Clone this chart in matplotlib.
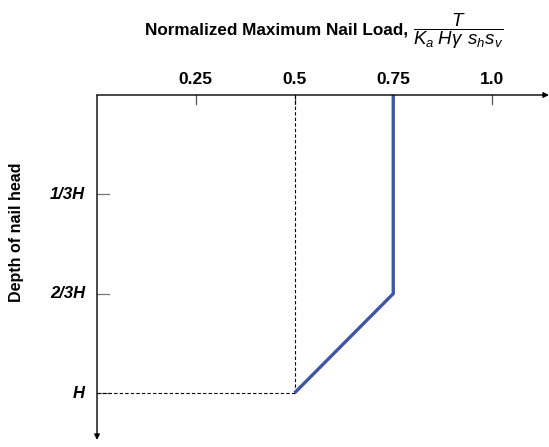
import matplotlib.pyplot as plt

plt.rcParams['font.family'] = 'Liberation Sans'
plt.rcParams['mathtext.fontset'] = 'custom'
plt.rcParams['mathtext.rm'] = 'Liberation Sans'
plt.rcParams['mathtext.it'] = 'Liberation Sans:italic'
plt.rcParams['mathtext.bf'] = 'Liberation Sans:bold:italic'

# data
load_ticks = [0.25, 0.5, 0.75, 1.0]
load_labels = ['0.25', '0.5', '0.75', '1.0']
depth_ticks = [1/3, 2/3, 1.0]
depth_labels = ['1/3H', '2/3H', 'H']
envelope_load = [0.75, 0.75, 0.5]
envelope_depth = [0.0, 2/3, 1.0]

fig = plt.figure(figsize=(5.49, 4.47), dpi=100)
W, H = 549, 447
x0, x1 = 97, 549
y0, y1 = 95, 440
ax = fig.add_axes([x0 / W, 1 - y1 / H, (x1 - x0) / W, (y1 - y0) / H])
xmax = (x1 - x0) / 395.0
ymax = (y1 - y0) / 298.0
ax.set_xlim(0, xmax)
ax.set_ylim(ymax, 0)
ax.axis('off')

# axes with arrows
ax.annotate('', xy=(xmax, 0), xytext=(0, 0),
            arrowprops=dict(arrowstyle='-|>', color='black', lw=1.0,
                            mutation_scale=8, shrinkA=0, shrinkB=0),
            annotation_clip=False)
ax.annotate('', xy=(0, ymax), xytext=(0, 0),
            arrowprops=dict(arrowstyle='-|>', color='black', lw=1.0,
                            mutation_scale=8, shrinkA=0, shrinkB=0),
            annotation_clip=False)

# x ticks
for v, lab in zip(load_ticks, load_labels):
    ax.plot([v, v], [0, 0.03], color='#555555', lw=0.9, clip_on=False)
    ax.text(v, -0.028, lab, ha='center', va='bottom', fontsize=12.5,
            fontweight='bold')

# y ticks
for v, lab in zip(depth_ticks, depth_labels):
    ax.plot([0, 0.03], [v, v], color='#777777', lw=0.9, clip_on=False)
    ax.text(-0.03, v, lab, ha='right', va='center', fontsize=12,
            fontweight='bold', fontstyle='italic')

# dashed guides
ax.plot([0.5, 0.5], [0, 1.0], color='black', lw=0.8, ls=(0, (3, 2)))
ax.plot([0, 0.5], [1.0, 1.0], color='black', lw=0.8, ls=(0, (3, 2)))

# envelope
ax.plot(envelope_load, envelope_depth, color='#3f56a6', lw=2.4,
        solid_joinstyle='miter', solid_capstyle='butt')

fig.text(145 / W, 1 - 30 / H, 'Normalized Maximum Nail Load,',
         ha='left', va='center', fontsize=12.3, fontweight='bold')
fig.text(413 / W, 1 - 31 / H,
         r'$\dfrac{T}{K_a\;H\gamma\;\,s_h s_v}$',
         ha='left', va='center', fontsize=13.5)
fig.text(17 / W, 1 - 232 / H, 'Depth of nail head', rotation=90,
         ha='center', va='center', fontsize=11.5, fontweight='bold')

fig.savefig('out.png', dpi=100)
